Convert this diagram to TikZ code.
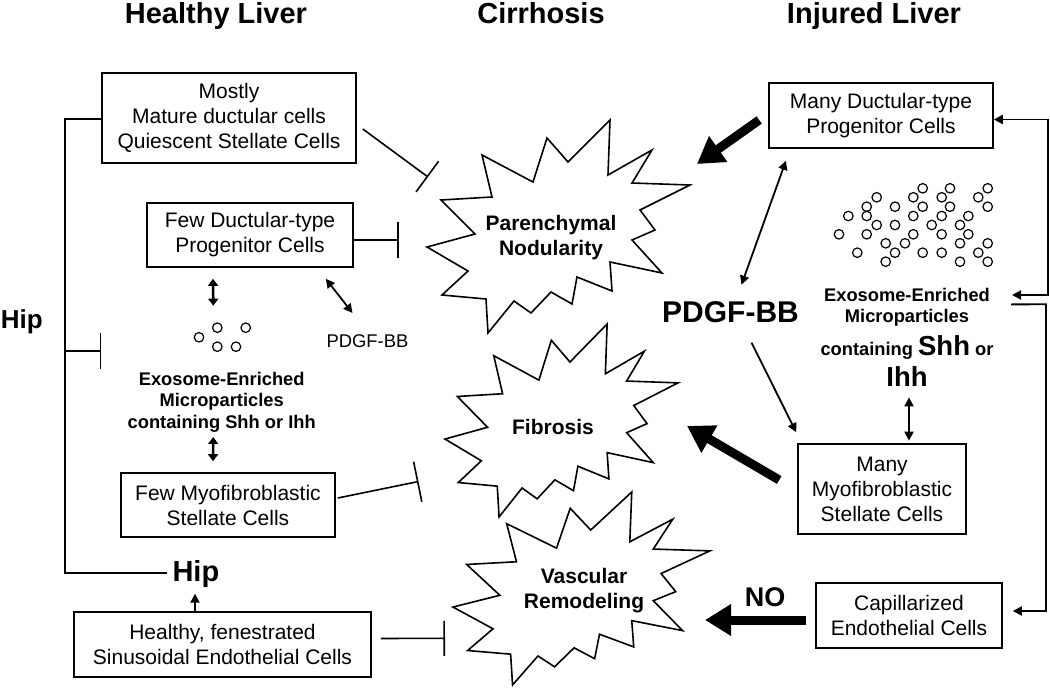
\documentclass[tikz,border=0pt]{standalone}
\usepackage{fontspec}
\setmainfont{Liberation Sans}
\usetikzlibrary{arrows.meta,calc}
\newcommand\nolsk{\lineskiplimit-100pt\relax}
\newcommand\drawburst[4]{\draw[burst,shift={(#1,#2)},xscale=#3,yscale=#4]
 (-74,-85) -- (-23,-58) -- (-9,-102) -- (12,-78) -- (54,-120) -- (52,-65) -- (96,-90) -- (76,-57) -- (134,-55) -- (84,-30) -- (99,-10) -- (76,0) -- (106,33) -- (54,22) -- (56,51) -- (21,37) -- (16,64) -- (-5,52) -- (-25,73) -- (-42,61) -- (-68,93) -- (-70,59) -- (-114,55) -- (-88,31) -- (-129,7) -- (-81,-6) -- (-115,-40) -- (-64,-43) -- cycle;}
\begin{document}
\begin{tikzpicture}[x=1pt,y=-1pt,line width=1.6pt,
  box/.style={draw,line width=1.6pt,align=center,inner sep=0pt,font=\fontsize{21}{25}\selectfont},
  lbl/.style={inner sep=0pt,align=center},
  title/.style={inner sep=0pt,anchor=base,font=\bfseries\fontsize{29}{31}\selectfont},
  inh/.style={-{Bar[width=#1]}},
  thick arrow/.style={line width=9pt,-{Triangle[width=30pt,length=26pt]}},
  sarr/.style={line width=1.8pt,-{Triangle[width=9pt,length=9pt]}},
  sdbl/.style={line width=1.8pt,{Triangle[width=9pt,length=9pt]}-{Triangle[width=9pt,length=9pt]}},
  hdbl/.style={line width=2.6pt,{Triangle[width=10pt,length=7pt]}-{Triangle[width=10pt,length=7pt]}},
  burst/.style={draw,line width=1.6pt,line join=miter},
  bub/.style={draw,circle,line width=1.2pt,minimum size=9.5pt,inner sep=0pt}
]
\useasboundingbox (0,0) rectangle (1050,688);
\fill[white] (0,0) rectangle (1050,688);

% titles
\node[title] (tH) at (216,23.5) {Healthy Liver};
\node[title] (tC) at (541,23.5) {Cirrhosis};
\node[title] (tI) at (874,23.5) {Injured Liver};

% bursts
\drawburst{556}{240}{1}{1}
\drawburst{559.3}{432.7}{0.886}{0.906}
\drawburst{579}{600.7}{0.977}{0.906}
\node[lbl,font=\bfseries\fontsize{21}{25}\selectfont] (pn) at (551,238) {Parenchymal\\Nodularity};
\node[lbl,font=\bfseries\fontsize{21}{25}\selectfont] (fb) at (553,426.5) {Fibrosis};
\node[lbl,font=\bfseries\fontsize{21}{25}\selectfont] (vr) at (584,590.5) {Vascular\\Remodeling};

% left boxes
\node[box,minimum width=254pt,minimum height=90pt] (A) at (229,118) {Mostly\\Mature ductular cells\\Quiescent Stellate Cells};
\node[box,minimum width=206pt,minimum height=64pt] (B) at (250,235) {Few Ductular-type\\Progenitor Cells};
\node[box,minimum width=214pt,minimum height=64pt] (C) at (228,505) {Few Myofibroblastic\\Stellate Cells};
\node[box,minimum width=297pt,minimum height=65pt] (D) at (222.5,644.5) {Healthy, fenestrated\\Sinusoidal Endothelial Cells};

% right boxes
\node[box,minimum width=224pt,minimum height=65pt] (E) at (881,115.5) {Many Ductular-type\\Progenitor Cells};
\node[box,minimum width=168pt,minimum height=90pt] (G) at (882,489) {Many\\Myofibroblastic\\Stellate Cells};
\node[box,minimum width=186pt,minimum height=65pt] (F) at (909,615.5) {Capillarized\\Endothelial Cells};

% labels
\node[lbl,font=\bfseries\fontsize{18.3}{21.5}\selectfont] (exoL) at (221.7,402) {Exosome-Enriched\\Microparticles\\containing Shh or Ihh};
\node[lbl,font={\bfseries\fontsize{18.3}{21.5}\selectfont\nolsk}] (exoR) at (907,337.4) {Exosome-Enriched\\Microparticles\\[10.8pt]containing {\fontsize{27.5}{30}\selectfont Shh} or\\[10.2pt]{\fontsize{27.5}{30}\selectfont Ihh}};
\node[lbl,font=\fontsize{18.4}{20}\selectfont] (pdgfL) at (367.5,341) {PDGF-BB};
\node[lbl,font=\bfseries\fontsize{30}{32}\selectfont] (pdgfR) at (730.5,311.7) {PDGF-BB};
\node[lbl,anchor=base west,font=\bfseries\fontsize{26}{28}\selectfont] (hipL) at (0,328.3) {Hip};
\node[lbl,anchor=base west,font=\bfseries\fontsize{29}{31}\selectfont] (hipB) at (171.7,581.7) {Hip};
\node[lbl,anchor=base,font=\bfseries\fontsize{27}{29}\selectfont] (no) at (765,606.7) {NO};

% dots
\foreach \x/\y [count=\i] in {199/337.3,217.3/327.7,245.7/327.7,217.3/346.7,236/346.7}
  \node[bub] (dl\i) at (\x,\y) {};
\foreach \x/\y [count=\i] in {922.7/188.3,950/188.3,987.7/188.3,
  876.7/197.3,913.3/197.3,941.7/197.3,978.3/197.3,
  866.7/206.7,895/206.7,922.7/206.7,950/206.7,987.7/206.7,
  848.3/216,866.7/216,913.3/216,941.7/216,968.3/216,
  876.7/225,895/225,931.7/225,960/225,
  839/234.3,866.7/234.3,913.3/234.3,941.7/234.3,968.3/234.3,
  885.7/243.3,905/243.3,960/243.3,987.7/243.3,
  857.3/252.7,895/252.7,922.7/252.7,941.7/252.7,978.3/252.7,
  885.7/261.7,960/261.7,987.7/261.7}
  \node[bub] (dr\i) at (\x,\y) {};

% left bracket
\coordinate (brTop) at (65,119);
\coordinate (brBot) at (65,573);
\coordinate (brInh) at (65,351);
\draw ($(A.west)+(0,1)$) -- (brTop) -- (brBot) -- ($(hipB.west|-brBot)+(-5,0)$);
\draw[inh=36pt] (brInh) -- (A.west |- brInh);

% inhibitors to cirrhosis
\coordinate (pnI1) at (428,177);
\draw[inh=38pt] ($(A.east)+(6,11)$) -- (pnI1);
\coordinate (pnI2) at (399,240);
\draw[inh=36pt] ($(B.east)+(0,5)$) -- (pnI2);
\coordinate (fbI) at (418.5,481.5);
\draw[inh=41pt] ($(C.east)+(2,-7)$) -- (fbI);
\coordinate (vrI) at (445,638.3);
\draw[inh=35pt] ($(D.east)+(9,-6)$) -- (vrI);

% small arrows left
\draw[hdbl] ($(B.south)+(-37,11)$) -- ($(dl2)+(-4,-22)$);
\draw[hdbl] ($(exoL.center)+(-8.5,35)$) -- ($(C.north)+(-15,-11)$);
\draw[sdbl] ($(B.south east)+(-28,11)$) -- ($(pdgfL.center)+(-15,-28)$);
\draw[sarr] ($(D.north)+(-27.5,0)$) -- ($(hipB.base west)+(23.3,12)$);

% thick arrows
\coordinate (pnT) at (697,164);
\draw[thick arrow] ($(E.west)+(-9,4.5)$) -- (pnT);
\coordinate (fbT) at (687,426);
\draw[thick arrow] ($(G.west)+(-18,-9)$) -- (fbT);
\coordinate (vrT) at (705,620);
\draw[thick arrow] ($(F.west)+(-9,4.5)$) -- (vrT);

% right small arrows
\draw[sdbl] ($(E.south west)+(17.7,12)$) -- ($(pdgfR.center)+(11,-27)$);
\draw[sarr] ($(pdgfR.center)+(21,31)$) -- ($(G.north west)+(-1,-11)$);
\draw[sdbl] ($(exoR.center)+(2,60)$) -- ($(G.north)+(27,-2.5)$);

% right bracket
\coordinate (rb1) at (1048,119.5);
\coordinate (rb2) at (1048,295);
\draw[sdbl] ($(E.east)+(0,4)$) -- (rb1) -- (rb2) -- ($(exoR.center)+(105,-42.4)$);
\coordinate (rb3) at (1046,304.3);
\coordinate (rb4) at (1046,611);
\draw[sarr] ($(exoR.center)+(104,-33)$) -- (rb3) -- (rb4) -- ($(F.east)+(10,-4.5)$);
\end{tikzpicture}
\end{document}
